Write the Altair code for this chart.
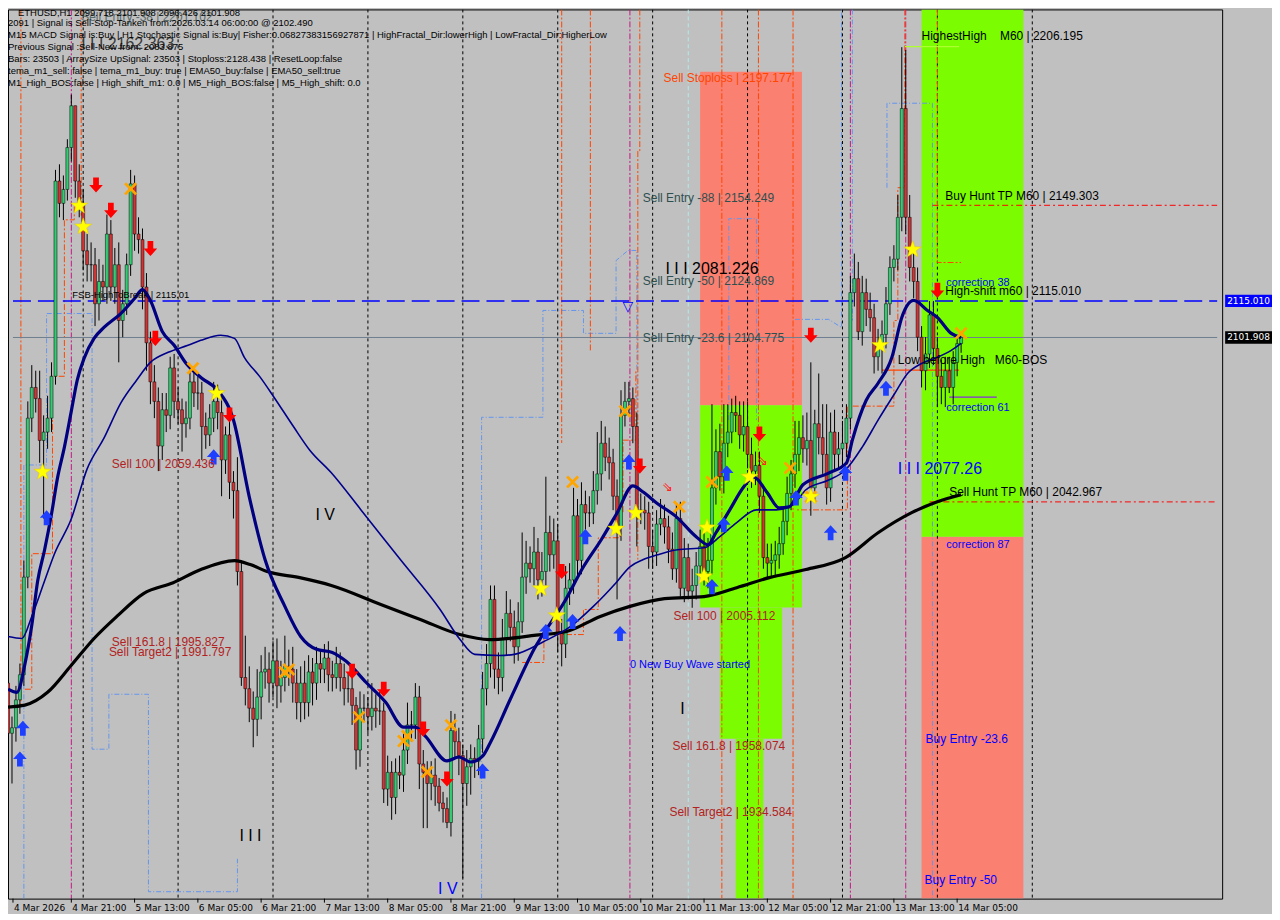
import altair as alt
import pandas as pd

# ---------------- values ----------------
first_open = 1978.0
closes = [
    1960, 1962, 1972, 1981, 2016, 2073, 2084, 2080, 2065, 2068,
    2073, 2088, 2158, 2150, 2155, 2170, 2185, 2158, 2150, 2133,
    2128, 2128, 2114, 2122, 2120, 2139, 2120, 2128, 2108, 2114,
    2128, 2157, 2139, 2137, 2120, 2100, 2086, 2079, 2063, 2076,
    2074, 2091, 2079, 2076, 2071, 2073, 2086, 2082, 2082, 2070,
    2067, 2073, 2079, 2075, 2058, 2067, 2050, 2047, 2018, 1980,
    1976, 1969, 1965, 1973, 1982, 1983, 1978, 1986, 1977, 1980,
    1984, 1983, 1978, 1971, 1978, 1971, 1982, 1978, 1985, 1983,
    1987, 1981, 1980, 1985, 1980, 1976, 1976, 1970, 1954, 1969,
    1969, 1966, 1969, 1968, 1968, 1940, 1946, 1937, 1946, 1945,
    1954, 1963, 1963, 1973, 1949, 1946, 1942, 1945, 1941, 1935,
    1933, 1928, 1961, 1957, 1952, 1942, 1948, 1951, 1950, 1958,
    1976, 1985, 2008, 1983, 1980, 1994, 2003, 1998, 1991, 2000,
    2016, 2021, 2019, 2025, 2015, 2018, 2032, 2024, 2029, 1996,
    1992, 2012, 2015, 2038, 2022, 2042, 2039, 2039, 2047, 2053,
    2064, 2059, 2057, 2045, 2034, 2074, 2079, 2080, 2070, 2040,
    2040, 2039, 2027, 2025, 2035, 2037, 2034, 2026, 2019, 2037,
    2012, 2023, 2011, 2013, 2020, 2027, 2018, 2022, 2048, 2061,
    2052, 2064, 2068, 2075, 2074, 2067, 2070, 2060, 2054, 2056,
    2045, 2023, 2021, 2022, 2024, 2028, 2036, 2046, 2053, 2060,
    2066, 2062, 2065, 2048, 2071, 2066, 2060, 2048, 2068, 2060,
    2062, 2064, 2073, 2118, 2123, 2104, 2118, 2112, 2109, 2095,
    2099, 2103, 2114, 2127, 2130, 2145, 2184, 2145, 2127, 2122,
    2102, 2090, 2096, 2110, 2098, 2088, 2084, 2090, 2084, 2093,
    2099.718, 2101.908,
]
upper_wicks = [
    3, 4, 5, 4, 6, 6, 8, 6, 10, 6,
    8, 5, 4, 6, 5, 3, 4, 0, 6, 5,
    6, 8, 6, 8, 6, 7, 5, 6, 8, 5,
    4, 5, 3, 6, 4, 5, 4, 6, 5, 6,
    6, 4, 5, 5, 4, 6, 4, 5, 6, 4,
    5, 5, 7, 6, 5, 3, 5, 4, 12, 4,
    15, 8, 6, 10, 6, 8, 6, 7, 8, 6,
    11, 6, 8, 5, 6, 8, 6, 5, 6, 5,
    5, 6, 5, 6, 4, 5, 6, 4, 3, 6,
    5, 4, 9, 5, 7, 3, 6, 4, 5, 6,
    6, 8, 5, 5, 4, 5, 4, 5, 6, 3,
    4, 4, 7, 6, 5, 4, 6, 5, 4, 5,
    6, 7, 5, 5, 6, 7, 8, 5, 6, 7,
    16, 8, 6, 9, 5, 7, 20, 6, 8, 6,
    5, 8, 6, 10, 6, 8, 5, 6, 7, 15,
    8, 6, 7, 5, 6, 9, 7, 6, 4, 5,
    6, 5, 4, 6, 5, 7, 5, 4, 6, 5,
    6, 7, 5, 6, 5, 6, 5, 8, 30, 8,
    10, 14, 10, 5, 6, 5, 9, 9, 6, 5,
    5, 4, 5, 6, 5, 6, 5, 6, 5, 12,
    6, 8, 10, 28, 5, 18, 12, 18, 7, 8,
    6, 8, 5, 6, 9, 6, 6, 5, 6, 5,
    6, 5, 6, 4, 5, 8, 22, 21, 8, 6,
    5, 4, 6, 5, 5, 4, 6, 5, 5, 4,
    3, 0,
]
lower_wicks = [
    6, 18, 5, 5, 4, 4, 5, 5, 8, 28,
    6, 5, 3, 5, 6, 4, 5, 6, 5, 7,
    6, 6, 8, 6, 5, 6, 5, 6, 15, 6,
    4, 4, 6, 5, 8, 10, 8, 6, 9, 5,
    6, 5, 6, 5, 10, 5, 4, 5, 6, 12,
    5, 4, 5, 6, 13, 5, 6, 10, 5, 3,
    6, 5, 10, 6, 8, 6, 7, 5, 8, 6,
    5, 6, 7, 6, 7, 6, 5, 8, 6, 5,
    5, 6, 5, 4, 5, 6, 5, 7, 7, 6,
    5, 6, 5, 6, 5, 5, 6, 8, 6, 5,
    6, 5, 6, 5, 9, 20, 16, 6, 7, 3,
    5, 2, 5, 6, 7, 34, 8, 10, 6, 5,
    5, 6, 5, 7, 6, 5, 6, 5, 6, 5,
    4, 6, 5, 6, 7, 6, 5, 6, 5, 7,
    8, 5, 6, 5, 6, 5, 6, 5, 4, 5,
    6, 5, 6, 5, 26, 5, 4, 5, 6, 13,
    5, 6, 8, 6, 5, 4, 6, 5, 4, 5,
    3, 5, 3, 6, 5, 4, 5, 6, 5, 6,
    5, 6, 5, 4, 6, 5, 6, 5, 6, 5,
    6, 4, 5, 5, 6, 5, 4, 5, 6, 5,
    6, 5, 6, 10, 5, 6, 7, 6, 5, 6,
    5, 6, 5, 4, 5, 3, 5, 6, 5, 6,
    5, 10, 5, 4, 5, 4, 5, 6, 5, 6,
    5, 6, 7, 5, 6, 11, 6, 7, 2, 6,
    5, 3.3,
]

time_labels = ["4 Mar 2026", "4 Mar 21:00", "5 Mar 13:00", "6 Mar 05:00", "6 Mar 21:00",
               "7 Mar 13:00", "8 Mar 05:00", "8 Mar 21:00", "9 Mar 13:00", "10 Mar 05:00",
               "10 Mar 21:00", "11 Mar 13:00", "12 Mar 05:00", "12 Mar 21:00", "13 Mar 13:00",
               "14 Mar 05:00"]
time_label_bars = [1.25, 16, 32, 48, 64, 80, 96, 112, 128, 144, 160, 176, 192, 208, 224, 240]
price_ticks = [2208.885, 2196.815, 2185.100, 2173.385, 2161.670, 2149.600, 2137.885, 2126.170,
               2090.670, 2078.955, 2067.240, 2055.525, 2043.455, 2031.740, 2020.025, 2008.310,
               1996.240, 1984.525, 1972.810, 1961.095, 1949.025, 1937.310, 1925.595, 1913.880,
               1902.165]

fast_ma = [(0, 1975.8), (2.25, 1974.7), (4.25, 1984.7), (6, 1998.7), (7.5, 2014.7), (9.25, 2025.8),
           (11, 2038.7), (12.5, 2051.5), (14.25, 2062.6), (16, 2075.5), (17.5, 2086.6), (19.25, 2094.5),
           (21.75, 2101.6), (24.25, 2105.5), (28.5, 2110.5), (32, 2115.9), (34, 2119.1), (36, 2115.2),
           (39, 2104.1), (42, 2099.1), (45, 2092.7), (49, 2087.3), (53, 2083.0), (57, 2072.3),
           (61, 2044.8), (65, 2022.2), (70, 2005.5), (74, 1994.7), (78, 1990.1), (82, 1989.0),
           (85.5, 1985.8), (90.5, 1978.3), (95.5, 1971.1), (100, 1962.2), (103, 1962.2), (105.5, 1959.0),
           (111, 1950.1), (114, 1951.5), (117, 1949.7), (120, 1951.8), (122, 1956.8), (127, 1972.2),
           (133, 1990.1), (141, 2007.9), (145.5, 2019.7), (150, 2029.4), (154, 2039.0), (158, 2048.7),
           (160.5, 2046.6), (164, 2042.6), (169, 2037.6), (174, 2030.5), (177, 2027.6), (179, 2031.9),
           (182.5, 2040.1), (186, 2048.3), (188.5, 2051.9), (192, 2046.2), (195, 2040.8), (197.5, 2041.2),
           (201, 2049.1), (207.5, 2053.3), (212, 2056.9), (213.5, 2065.1), (217, 2079.4), (220, 2085.5),
           (223.5, 2094.8), (226, 2109.1), (229, 2115.2), (232.5, 2111.6), (235, 2109.1), (238.5, 2103.4),
           (241, 2101.9)]
mid_ma = [(0, 1994.7), (3.5, 1994.0), (6, 2001.9), (9.25, 2014.7), (11.75, 2024.4), (16, 2036.9),
          (20, 2054.8), (24.25, 2065.8), (28.5, 2078.4), (32.5, 2086.6), (36, 2093.0), (40.5, 2096.6),
          (45.5, 2099.1), (48.75, 2100.9), (53.75, 2102.7), (57.25, 2101.6), (59.75, 2094.8),
          (63.75, 2087.7), (67.25, 2080.5), (72.25, 2069.8), (76.25, 2061.6), (81.75, 2053.4),
          (89.25, 2040.1), (99.25, 2022.2), (109.25, 2004.4), (114.25, 1993.7), (118, 1988.3),
          (124.25, 1987.9), (128, 1988.3), (135.5, 1992.9), (142.25, 1998.3), (148, 2005.5),
          (153.75, 2014.0), (157.25, 2019.7), (160.5, 2022.2), (164.25, 2024.0), (169.25, 2025.8),
          (176, 2026.5), (180, 2030.5), (184.25, 2035.5), (189.25, 2040.1), (194.25, 2040.1),
          (198.5, 2041.9), (201.75, 2047.3), (207.5, 2050.8), (211.75, 2054.4), (216, 2062.6),
          (220, 2072.3), (224.25, 2081.9), (227.5, 2089.1), (231, 2092.6), (235, 2094.8),
          (238.5, 2097.3), (241, 2099.8)]
slow_ma = [(0, 1969.4), (4.25, 1970.1), (10, 1974.7), (16, 1984.4), (21.75, 1994.0), (27.5, 2001.9),
           (34.25, 2010.1), (41.75, 2014.0), (48.75, 2018.7), (57.25, 2021.9), (61.25, 2020.5),
           (65.5, 2018.0), (73.75, 2015.8), (81.75, 2013.0), (94.25, 2006.2), (104.25, 2000.8),
           (114.25, 1995.4), (121.75, 1993.6), (129.25, 1994.4), (133, 1995.1), (141.25, 1996.5),
           (149.75, 2001.9), (157.25, 2005.5), (166, 2008.3), (176, 2009.0), (184.25, 2012.2),
           (192.5, 2015.8), (201.75, 2018.7), (211.75, 2023.0), (220, 2031.9), (228.5, 2039.1),
           (235, 2043.0), (241, 2045.5)]

# zones: (start bar, end bar, low price, high price)
salmon_zones = [(175, 200.75, 2077.6, 2197.177), (231, 256.75, 1900.73, 2030.5)]
green_zones = [(175, 200.75, 2005.112, 2077.6), (180, 195.75, 1958.074, 2005.112),
               (184, 191, 1900.73, 1958.074), (231, 256.75, 2030.5, 2219.53)]

day_separators = [19, 43, 67, 91, 115, 139, 163, 187, 211, 235, 259]
magenta_verticals = [16, 157.25, 213, 227]
cyan_verticals = [172]

orange_paths = [
    [(3.25, 2219.5), (3.25, 1970.1)],
    [(4.25, 1975.8), (6, 1975.8), (6, 2024.4), (11.25, 2024.4), (11.25, 2088.0), (14.25, 2088.0),
     (14.25, 2144.1), (16.75, 2144.1), (16.75, 2149.1)],
    [(18.5, 2219.5), (18.5, 2145.6)],
    [(140, 2219.5), (140, 2064.1)],
    [(147.25, 2219.5), (147.25, 2097.3)],
    [(159.75, 2219.5), (159.75, 2168.8), (159.25, 2168.8), (159.25, 2022.3)],
    [(180.5, 2219.5), (180.5, 1900.7)],
    [(189.75, 2219.5), (189.75, 1900.7)],
    [(198.5, 2219.5), (198.5, 1900.7)],
    [(226.75, 2219.5), (226.75, 2155.6), (225, 2155.6), (225, 2108.0), (224, 2108.0), (224, 2077.3),
     (212.25, 2077.3), (212.25, 2040.1), (199.25, 2040.1)],
    [(235, 2219.5), (235, 2128.8), (241, 2128.8)],
    [(130, 1985.4), (135.5, 1985.4), (135.5, 1995.4), (145.5, 1995.4), (145.5, 2004.4), (149.25, 2004.4),
     (149.25, 2030.1), (154.75, 2030.1), (154.75, 2039.0), (155.5, 2039.0), (155.5, 2065.1),
     (158.75, 2065.1), (158.75, 2090.2)],
]
blue_paths = [
    [(4, 1900.7), (4, 2056.2), (9.75, 2056.2), (9.75, 2110.5), (21.25, 2110.5), (21.25, 1954.3),
     (25.5, 1954.3), (25.5, 1974.0), (35.5, 1974.0), (35.5, 1903.2), (58, 1903.2), (58, 1915.0)],
    [(119.75, 1900.7), (119.75, 2073.3), (135.25, 2073.3), (135.25, 2111.6), (145.5, 2111.6),
     (145.5, 2103.4), (153.75, 2103.4), (153.75, 2129.5), (156.75, 2133.1), (159, 2133.1), (159, 2073.3)],
    [(182.25, 2072.3), (182.25, 2144.5), (189.25, 2144.5), (189.25, 2072.3)],
    [(199, 2108.4), (207.5, 2108.4), (210.75, 2105.5), (210.75, 2219.5)],
    [(213.5, 2219.5), (213.5, 2108.0)],
    [(222.25, 2155.6), (222.25, 2185.9), (233.75, 2185.9), (233.75, 1900.7)],
]

stars = [(8.75, 2053.7), (18, 2149.1), (19, 2141.6), (52.75, 2081.9), (134.75, 2011.9), (138.75, 2002.2),
         (153.75, 2033.3), (158.75, 2039.0), (176, 2016.2), (176.75, 2033.7), (187.5, 2051.9),
         (203, 2044.8), (220.5, 2099.1), (228.75, 2133.4)]
crosses = [(31, 2155.2), (46.75, 2090.9), (70, 1981.9), (71, 1982.9), (88.75, 1965.8), (100, 1957.2),
           (101, 1959.0), (106, 1946.1), (112, 1962.9), (142.75, 2050.1), (156, 2075.5), (169.75, 2041.2),
           (178, 2050.1), (197.75, 2055.1), (203, 2044.8), (241, 2103.4)]
sell_arrows = [(22.25, 2156.6), (26, 2147.5), (36, 2133.8), (37.25, 2101.6), (56, 2074.1), (87, 1982.2),
               (95, 1975.8), (105, 1961.5), (111, 1943.6), (140, 2018.0), (159.75, 2055.8), (190, 2067.3),
               (203, 2102.7), (235, 2118.8)]
buy_arrows = [(3, 1950.8), (3.75, 1961.8), (9.75, 2037.3), (52, 2059.1), (120, 1946.5), (136, 1996.5),
              (142.75, 2000.1), (146, 2030.5), (154.75, 1995.8), (157, 2057.3), (178, 2012.6),
              (181, 2034.8), (181.75, 2053.3), (199.25, 2044.4), (208, 2031.9), (211.75, 2053.3),
              (222, 2083.7)]

header_first = "ETHUSD,H1  2099.718 2101.908 2096.426 2101.908"
header_rest = [
    "2091 | Signal is Sell-Stop-Tanken from:2026.03.14 06:00:00 @ 2102.490",
    "M15 MACD Signal is:Buy | H1 Stochastic Signal is:Buy| Fisher:0.06827383156927871 | HighFractal_Dir:lowerHigh | LowFractal_Dir:HigherLow",
    "Previous Signal :Sell-New from: 2083.875",
    "Bars: 23503 | ArraySize UpSignal: 23503 | Stoploss:2128.438 | ResetLoop:false",
    "tema_m1_sell: false | tema_m1_buy: true | EMA50_buy:false | EMA50_sell:true",
    "M1_High_BOS:false | High_shift_m1: 0.0 | M5_High_BOS:false | M5_High_shift: 0.0",
]

NB = "\u00a0"
labels_orange = [("Sell Stoploss | 2197.177", 165.75, 2194.9)]
labels_slate = [("Sell Entry -88 | 2154.249", 160.5, 2152.0), ("Sell Entry -50 | 2124.869", 160.5, 2122.0),
                ("Sell Entry -23.6 | 2104.775", 160.5, 2101.9)]
labels_top_grey = [("Sell Entry -38 | 2201.102", 18.5, 2216.8)]
labels_brick = [("Sell 100 | 2059.436", 26.25, 2056.6), ("Sell 161.8 | 1995.827", 26.25, 1992.9),
                ("Sell Target2 | 1991.797", 25.5, 1989.0), ("Sell 100 | 2005.112", 168.25, 2002.2),
                ("Sell 161.8 | 1958.074", 168, 1955.4), ("Sell Target2 | 1934.584", 167.25, 1931.8)]
labels_black = [("HighestHigh" + NB * 4 + "M60 | 2206.195", 231, 2209.9),
                ("Buy Hunt TP M60 | 2149.303", 237, 2152.7),
                ("High-shift m60 | 2115.010", 237, 2118.4),
                ("Low before High" + NB * 3 + "M60-BOS", 225, 2093.7),
                ("Sell Hunt TP M60 | 2042.967", 238, 2046.5)]
labels_blue_small = [("correction 38", 237.25, 2121.6), ("correction 61", 237.25, 2076.6),
                     ("correction 87", 237.25, 2027.6), ("0 New Buy Wave started", 157.25, 1984.4)]
labels_blue = [("Buy Entry -23.6", 232, 1957.9), ("Buy Entry -50", 231.75, 1907.5)]
labels_big_black = [("I I I 2081.226", 166.25, 2126.3), ("I V", 77.75, 2038.3), ("I I I", 58.5, 1923.3),
                    ("I", 170, 1968.6)]
labels_big_grey = [("I I I 2162.363", 18.5, 2207.0)]
labels_big_blue = [("I I I 2077.26", 225, 2054.8), ("I V", 108.75, 1904.3)]
labels_tiny = [("FSB-HighToBreak | 2115.01", 16.25, 2117.3)]

fsb_level = 2115.010
bid_level = 2101.908
buy_hunt_tp = (233.75, 2149.303)
sell_hunt_tp = (233.0, 2042.967)
low_before_high = (221, 240.5, 2090.2)
corr61_line = (238, 250, 2080.5)
highest_line = (226.75, 240.5, 2206.2)

# ---------------- chart construction ----------------
W, H = 1218, 892
X_DOM = [1.25, 305.75]
Y_DOM = [1900.73, 2219.53]
BG = "#C0C0C0"
BULL = "#32CD72"
BEAR = "#D03434"
ORANGE = "#FF4500"
LBLUE = "#6495ED"
MAGENTA = "#C71585"

xs = alt.Scale(domain=X_DOM, nice=False, zero=False)
ys = alt.Scale(domain=Y_DOM, nice=False, zero=False)


def ex(f="i"):
    return alt.X(f"{f}:Q", scale=xs, axis=None)


def ey(f="v"):
    return alt.Y(f"{f}:Q", scale=ys, axis=None)


opens = [first_open] + closes[:-1]
highs = [max(o, c) + u for o, c, u in zip(opens, closes, upper_wicks)]
lows = [min(o, c) - d for o, c, d in zip(opens, closes, lower_wicks)]
candles = pd.DataFrame({"i": list(range(len(closes))), "o": opens, "c": closes, "h": highs, "l": lows})
candles["dir"] = ["up" if c >= o else "down" for o, c in zip(opens, closes)]

layers = []

# zones
for zones, col in ((salmon_zones, "#FA8072"), (green_zones, "#7CFC00")):
    zdf = pd.DataFrame(zones, columns=["i0", "i1", "v0", "v1"])
    layers.append(alt.Chart(zdf).mark_rect(color=col, clip=True).encode(
        x=ex("i0"), x2="i1:Q", y=ey("v0"), y2="v1:Q"))


def vrules(vals, color, dash, width=1.0):
    d = pd.DataFrame({"i": vals, "top": Y_DOM[1], "bot": Y_DOM[0]})
    return alt.Chart(d).mark_rule(color=color, strokeDash=dash, strokeWidth=width, clip=True).encode(
        x=ex("i"), y=ey("top"), y2="bot:Q")


layers.append(vrules(day_separators, "black", [3, 3]))
layers.append(vrules(magenta_verticals, MAGENTA, [6, 2, 2, 2]))
layers.append(vrules(cyan_verticals, "#AFEEEE", [4, 3]))


def paths_df(paths):
    rows = []
    for n, p in enumerate(paths):
        for k, (i, v) in enumerate(p):
            rows.append({"line": n, "k": k, "i": i, "v": v})
    return pd.DataFrame(rows)


layers.append(alt.Chart(paths_df(blue_paths)).mark_line(color=LBLUE, strokeDash=[5, 2, 1, 2], strokeWidth=1, clip=True).encode(
    x=ex(), y=ey(), detail="line:N", order="k:Q"))
layers.append(alt.Chart(paths_df(orange_paths)).mark_line(color=ORANGE, strokeDash=[6, 2, 2, 2], strokeWidth=1, clip=True).encode(
    x=ex(), y=ey(), detail="line:N", order="k:Q"))

# horizontal levels
hfull = pd.DataFrame({"i0": [X_DOM[0]], "i1": [X_DOM[1]], "v": [fsb_level]})
layers.append(alt.Chart(hfull).mark_rule(color="#0000FF", strokeDash=[18, 7], strokeWidth=1.5, clip=True).encode(
    x=ex("i0"), x2="i1:Q", y=ey()))
bfull = pd.DataFrame({"i0": [X_DOM[0]], "i1": [X_DOM[1]], "v": [bid_level]})
layers.append(alt.Chart(bfull).mark_rule(color="#708090", strokeWidth=1, clip=True).encode(
    x=ex("i0"), x2="i1:Q", y=ey()))
tp = pd.DataFrame({"i0": [buy_hunt_tp[0], sell_hunt_tp[0]], "i1": [X_DOM[1], X_DOM[1]],
                   "v": [buy_hunt_tp[1], sell_hunt_tp[1]]})
layers.append(alt.Chart(tp).mark_rule(color="#FF0000", strokeDash=[6, 3, 2, 3], strokeWidth=1, clip=True).encode(
    x=ex("i0"), x2="i1:Q", y=ey()))
for seg, col in ((low_before_high, ORANGE), (corr61_line, "#8A2BE2"), (highest_line, "#ADFF2F")):
    sdf = pd.DataFrame({"i0": [seg[0]], "i1": [seg[1]], "v": [seg[2]]})
    layers.append(alt.Chart(sdf).mark_rule(color=col, strokeWidth=1.2, clip=True).encode(
        x=ex("i0"), x2="i1:Q", y=ey()))

# candles (the right price axis lives here)
y_axis = alt.Axis(orient="right", values=price_ticks, format=".3f", grid=False,
                  domainColor="black", tickColor="black", tickSize=4, labelPadding=2,
                  labelFont="DejaVu Sans", labelFontSize=9, labelColor="black",
                  title=None, labelOverlap=False, labelBound=False, labelFlush=False)
layers.append(alt.Chart(candles).mark_rule(color="black", strokeWidth=1, clip=True).encode(
    x=ex("i"), y=alt.Y("h:Q", scale=ys, axis=y_axis), y2="l:Q"))
layers.append(alt.Chart(candles).mark_bar(size=3, stroke="black", strokeWidth=0.5, clip=True).encode(
    x=ex("i"), y=ey("o"), y2="c:Q",
    color=alt.Color("dir:N", scale=alt.Scale(domain=["up", "down"], range=[BULL, BEAR]), legend=None)))

# moving averages
for pts, col, w in ((slow_ma, "black", 3.2), (mid_ma, "#00008B", 1.6), (fast_ma, "#000080", 3.2)):
    mdf = pd.DataFrame(pts, columns=["i", "v"])
    layers.append(alt.Chart(mdf).mark_line(color=col, strokeWidth=w, interpolate="monotone", clip=True).encode(
        x=ex(), y=ey()))

# markers
STAR = "M0,-1L0.235,-0.324L0.951,-0.309L0.38,0.124L0.588,0.809L0,0.4L-0.588,0.809L-0.38,0.124L-0.951,-0.309L-0.235,-0.324Z"
DOWN = "M-0.38,-1L0.38,-1L0.38,0L0.9,0L0,1L-0.9,0L-0.38,0Z"
UP = "M-0.38,1L0.38,1L0.38,0L0.9,0L0,-1L-0.9,0L-0.38,0Z"
XMARK = "M-1,-0.7L-0.7,-1L0,-0.3L0.7,-1L1,-0.7L0.3,0L1,0.7L0.7,1L0,0.3L-0.7,1L-1,0.7L-0.3,0Z"
for pts, kw in (
    (crosses, dict(shape=XMARK, color="#FFA500", size=170, filled=True, strokeWidth=0)),
    (stars, dict(shape=STAR, color="#FFFF00", size=320, filled=True, stroke="#E6C800", strokeWidth=0.5)),
    (sell_arrows, dict(shape=DOWN, color="#FF0000", size=230, filled=True, strokeWidth=0)),
    (buy_arrows, dict(shape=UP, color="#1F3FFF", size=230, filled=True, strokeWidth=0)),
):
    pdf = pd.DataFrame(pts, columns=["i", "v"])
    layers.append(alt.Chart(pdf).mark_point(opacity=1, clip=True, **kw).encode(x=ex(), y=ey()))

# small glyph markers
glyphs = pd.DataFrame([("▽", 156.75, 2113.0, "b"), ("⇘", 166.75, 2048.3, "r"), ("⇘", 190.75, 2057.6, "r")],
                      columns=["t", "i", "v", "g"])
layers.append(alt.Chart(glyphs[glyphs.g == "b"]).mark_text(font="DejaVu Sans", fontSize=14, color="#0000FF", clip=True).encode(
    x=ex(), y=ey(), text="t:N"))
layers.append(alt.Chart(glyphs[glyphs.g == "r"]).mark_text(font="DejaVu Sans", fontSize=13, color="#FF2020", clip=True).encode(
    x=ex(), y=ey(), text="t:N"))


def text_layer(items, color, size, font="Liberation Sans"):
    tdf = pd.DataFrame(items, columns=["t", "i", "v"])
    return alt.Chart(tdf).mark_text(align="left", baseline="middle", font=font, fontSize=size,
                                    color=color, clip=True).encode(x=ex(), y=ey(), text="t:N")


layers.append(text_layer(labels_top_grey, "#5A6A6A", 12))
layers.append(text_layer(labels_orange, "#FF4500", 12))
layers.append(text_layer(labels_slate, "#2F4F4F", 12))
layers.append(text_layer(labels_brick, "#B22222", 12))
layers.append(text_layer(labels_black, "black", 12))
layers.append(text_layer(labels_blue_small, "#0000FF", 11))
layers.append(text_layer(labels_blue, "#0000FF", 12))
layers.append(text_layer(labels_big_black, "black", 16))
layers.append(text_layer(labels_big_grey, "#3A3A3A", 16))
layers.append(text_layer(labels_big_blue, "#0000FF", 16))
layers.append(text_layer(labels_tiny, "black", 9.5))

# header block (screen anchored)
hdr = pd.DataFrame({"t": ["\n".join(header_rest)]})
layers.append(alt.Chart(hdr).mark_text(align="left", baseline="top", lineBreak="\n", lineHeight=12,
                                       font="Liberation Sans", fontSize=9.5, color="black", clip=True).encode(
    x=alt.value(0), y=alt.value(9), text="t:N"))
hdr1 = pd.DataFrame({"t": [header_first]})
layers.append(alt.Chart(hdr1).mark_text(align="left", baseline="top", font="Liberation Sans", fontSize=9.5,
                                        color="black", clip=True).encode(
    x=alt.value(10), y=alt.value(-1), text="t:N"))

# time axis (ticks + labels under the plot)
tdf = pd.DataFrame({"i": time_label_bars, "t": time_labels})
layers.append(alt.Chart(tdf).mark_rule(color="black", strokeWidth=1).encode(
    x=ex("i"), y=alt.value(H), y2=alt.value(H + 4)))
layers.append(alt.Chart(tdf).mark_text(align="left", baseline="top", font="DejaVu Sans", fontSize=9,
                                       color="black", dx=1).encode(
    x=ex("i"), y=alt.value(H + 5), text="t:N"))

# price boxes on the axis
for lvl, col in ((fsb_level, "#0000FF"), (bid_level, "black")):
    bdf = pd.DataFrame({"v0": [lvl - 2.2], "v1": [lvl + 2.2], "v": [lvl], "t": [f"{lvl:.3f}"]})
    layers.append(alt.Chart(bdf).mark_rect(color=col).encode(
        x=alt.value(W + 3), x2=alt.value(W + 50), y=ey("v0"), y2="v1:Q"))
    layers.append(alt.Chart(bdf).mark_text(align="left", baseline="middle", font="DejaVu Sans", fontSize=9,
                                           color="white").encode(
        x=alt.value(W + 5), y=ey("v"), text="t:N"))

chart = alt.layer(*layers).properties(
    width=W, height=H, padding=0, background=BG
).configure_view(stroke="black", strokeWidth=1)

chart.save("out.html", embed_options={"renderer": "svg", "actions": False})
